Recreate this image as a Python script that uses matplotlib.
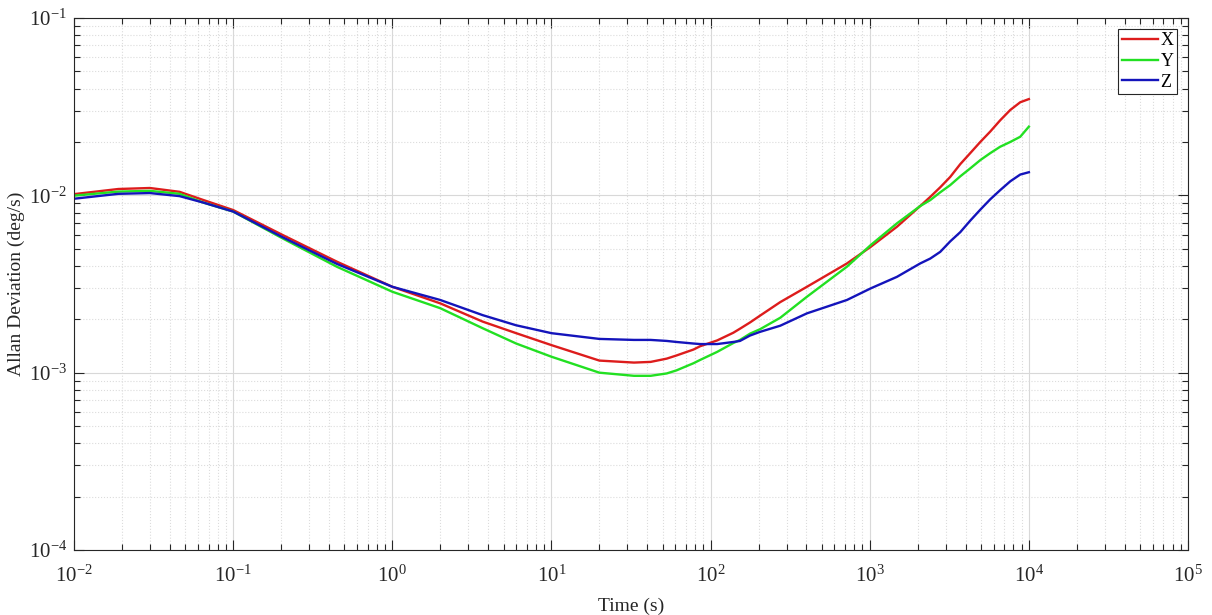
import numpy as np
import matplotlib
matplotlib.use("Agg")
import matplotlib.pyplot as plt
from matplotlib.ticker import LogLocator, NullFormatter

# -------- Data -----------------------------------
tau = [0.01, 0.019, 0.03, 0.046, 0.065, 0.1, 0.205, 0.45, 1.0, 2.0, 3.7, 6,
       10, 20, 33, 42, 53, 61, 78, 86, 110, 139, 153, 177, 205, 274, 403,
       719, 1016, 1482, 2075, 2400, 2773, 3204, 3706, 4281, 4951, 5720, 6604,
       7642, 8828, 10000]

adev_x = [0.01016, 0.01086, 0.0110, 0.01047, 0.00941, 0.00826, 0.00597,
          0.00422, 0.00305, 0.00246, 0.00194, 0.00167, 0.00143, 0.00117,
          0.00114, 0.00115, 0.00120, 0.00125, 0.00135, 0.00141, 0.00152,
          0.00168, 0.00177, 0.00192, 0.00210, 0.00250, 0.00305, 0.00413,
          0.00513, 0.00665, 0.0087, 0.0098, 0.0111, 0.0127, 0.0150, 0.0173,
          0.0200, 0.0229, 0.0265, 0.0303, 0.0335, 0.0349]

adev_y = [0.00996, 0.0105, 0.0106, 0.0102, 0.0091, 0.0081, 0.00571,
          0.00395, 0.00286, 0.00231, 0.00178, 0.00146, 0.00123, 0.00100,
          0.00096, 0.00096, 0.00099, 0.00103, 0.00113, 0.00118, 0.00131,
          0.00147, 0.00153, 0.00166, 0.00176, 0.00204, 0.00268, 0.00396,
          0.00525, 0.00695, 0.0087, 0.0094, 0.0104, 0.01142, 0.0128, 0.01419,
          0.0158, 0.0173, 0.0188, 0.0200, 0.0214, 0.0244]

adev_z = [0.00957, 0.0102, 0.0103, 0.0099, 0.0091, 0.0081, 0.0058,
          0.0041, 0.00305, 0.00257, 0.00211, 0.00185, 0.00167, 0.00155,
          0.00153, 0.00153, 0.00151, 0.00149, 0.00146, 0.00145, 0.00145,
          0.00149, 0.00151, 0.00162, 0.00170, 0.00184, 0.00216, 0.00257,
          0.00299, 0.00347, 0.00413, 0.0044, 0.0048, 0.0055, 0.0062, 0.0072,
          0.0083, 0.0095, 0.0107, 0.0120, 0.0131, 0.0135]

labels = ["X", "Y", "Z"]
colors = ["#dd1c1c", "#22e022", "#1414bb"]

xticks = [1e-2, 1e-1, 1e0, 1e1, 1e2, 1e3, 1e4, 1e5]
yticks = [1e-4, 1e-3, 1e-2, 1e-1]

plt.rcParams['font.family'] = ['Liberation Serif', 'DejaVu Serif']
plt.rcParams['mathtext.fontset'] = 'custom'
plt.rcParams['mathtext.rm'] = 'Liberation Serif'
plt.rcParams['mathtext.it'] = 'Liberation Serif:italic'
plt.rcParams['axes.unicode_minus'] = False

fig = plt.figure(figsize=(12.12, 6.15), dpi=100)
ax = fig.add_axes([0.0611, 0.1057, 0.9191, 0.865])

for vals, lab, col in zip([adev_x, adev_y, adev_z], labels, colors):
    ax.loglog(tau, vals, color=col, linewidth=1.7, label=lab)

ax.set_xlim(1e-2, 1e5)
ax.set_ylim(1e-4, 1e-1)

ax.set_xticks(xticks)
ax.set_yticks(yticks)
ax.xaxis.set_minor_locator(LogLocator(base=10, subs=np.arange(2, 10), numticks=100))
ax.yaxis.set_minor_locator(LogLocator(base=10, subs=np.arange(2, 10), numticks=100))
ax.xaxis.set_minor_formatter(NullFormatter())
ax.yaxis.set_minor_formatter(NullFormatter())

ax.grid(which='major', color='#d8d8d8', linestyle='-', linewidth=0.8)
ax.grid(which='minor', color='#dcdcdc', linestyle=':', linewidth=0.8)
ax.set_axisbelow(True)

ax.tick_params(which='both', direction='in', top=True, right=True,
               labelsize=15, colors='#262626')
ax.tick_params(which='major', length=7, width=0.8)
ax.tick_params(which='minor', length=4, width=0.8)
ax.tick_params(axis='x', pad=11)
ax.tick_params(axis='y', pad=5)
for sp in ax.spines.values():
    sp.set_color('#262626')
    sp.set_linewidth(0.8)

ax.set_xlabel("Time (s)", fontsize=14, color='#262626', labelpad=8)
ax.set_ylabel("Allan Deviation (deg/s)", fontsize=14, color='#262626', labelpad=3)

leg = ax.legend(loc='upper right', fontsize=13, fancybox=False,
                edgecolor='#262626', framealpha=1, borderaxespad=0.6,
                handlelength=2.0, handletextpad=0.15, labelspacing=0.2,
                borderpad=0.2)
leg.get_frame().set_linewidth(0.8)

plt.savefig("out.png", dpi=100)
